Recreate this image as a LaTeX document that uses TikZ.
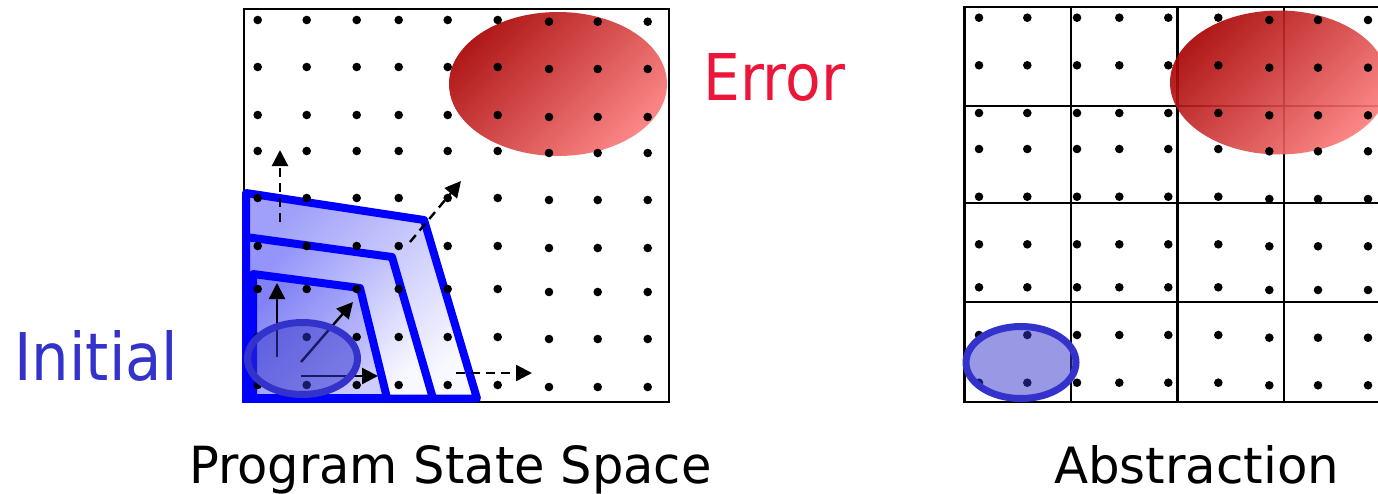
\documentclass[tikz,border=0pt]{standalone}
\usepackage{fontspec}
\setmainfont{DejaVu Sans}
\usetikzlibrary{arrows.meta}
\definecolor{errred}{RGB}{236,22,58}
\definecolor{initblue}{RGB}{51,51,204}
\definecolor{darkred}{RGB}{168,0,0}
\definecolor{lightred}{RGB}{252,122,122}
\definecolor{bandA}{RGB}{160,160,250}
\definecolor{bandB}{RGB}{148,148,250}
\definecolor{bandC}{RGB}{130,130,245}
\definecolor{bandLow}{RGB}{248,248,255}
\definecolor{bandLowC}{RGB}{205,205,255}
\begin{document}
\begin{tikzpicture}[x=1pt,y=-1pt,
  dotc/.style={fill=black},
  region/.style={draw=blue, line width=8pt, line join=round},
  arr/.style={line width=2.4pt, -{Triangle[length=16pt,width=16pt]}},
  darr/.style={arr, dash pattern=on 9pt off 6pt},
  lbl/.style={inner sep=0pt, anchor=base west},
  initell/.style={draw=initblue, line width=7pt, fill=initblue, fill opacity=0.5, draw opacity=1},
  gridline/.style={line width=2.6pt, black}
]
\useasboundingbox (0,0) rectangle (1378,493);
\fill[white] (0,0) rectangle (1378,493);

% ---------- left panel ----------
\draw[line width=2.2pt] (244,9) rectangle (669,402);
\shade[top color=darkred, bottom color=lightred, shading angle=45, opacity=0.9] (558,84) ellipse [x radius=109pt, y radius=72pt];

\shade[top color=bandA, bottom color=bandLow, shading angle=45] (246,193) -- (424,220) -- (477,398.5) -- (246,398.5) -- cycle;
\draw[region] (246,193) -- (424,220) -- (477,398.5) -- (246,398.5) -- cycle;
\shade[top color=bandB, bottom color=bandLow, shading angle=45] (246,237) -- (392,257) -- (433,398.5) -- (246,398.5) -- cycle;
\draw[region] (246,237) -- (392,257) -- (433,398.5) -- (246,398.5) -- cycle;
\shade[top color=bandC, bottom color=bandLowC, shading angle=45] (253,274) -- (360,288) -- (387,398) -- (253,398) -- cycle;
\draw[region] (253,274) -- (360,288) -- (387,398) -- (253,398) -- cycle;
\fill[blue] (242,280) rectangle (257,402.5);

\foreach \x in {257.7,306.7,356.7,398.7,447.7,497.7}
  \foreach \y in {20,67,115,151,198,246,289,337,385}
    \fill[dotc] (\x,\y) circle (4.3pt);
\foreach \x in {549,597.7,647.7}
  \foreach \y in {21.7,69,117,153,200,248,292,339,387}
    \fill[dotc] (\x,\y) circle (4.3pt);

\coordinate (su1) at (277,357); \coordinate (su2) at (277,283);
\coordinate (sd1) at (301,362); \coordinate (sd2) at (353,302);
\coordinate (sh1) at (301,376); \coordinate (sh2) at (378,376);
\draw[arr] (su1) -- (su2);
\draw[arr] (sd1) -- (sd2);
\draw[arr] (sh1) -- (sh2);

\draw[initell] (302.5,358.5) ellipse [x radius=55pt, y radius=36pt];

\coordinate (du1) at (280,222); \coordinate (du2) at (280,150);
\coordinate (dd1) at (410,242); \coordinate (dd2) at (461,181);
\coordinate (dh1) at (456,373); \coordinate (dh2) at (532,373);
\draw[darr] (du1) -- (du2);
\draw[darr] (dd1) -- (dd2);
\draw[darr] (dh1) -- (dh2);

\node[lbl, text=errred] (err) at (703,100) {\resizebox{142pt}{47pt}{Error}};
\node[lbl, text=initblue] (init) at (14,380) {\resizebox{164pt}{50pt}{Initial}};
\node[lbl] (pss) at (189,483) {\resizebox{522pt}{38pt}{Program State Space}};

% ---------- right panel ----------
\foreach \x in {964.7,1071,1177.7,1284}
  \draw[gridline] (\x,7) -- (\x,402);
\foreach \y in {7,106,203,302,402}
  \draw[gridline] (963.4,\y) -- (1378,\y);

\begin{scope}[overlay]
  \clip (0,0) rectangle (1378,493);
  \shade[top color=darkred, bottom color=lightred, shading angle=45, opacity=0.9] (1279,82.5) ellipse [x radius=109pt, y radius=72pt];
\end{scope}

\foreach \x in {979,1027.3,1077,1119.3,1168.3,1218.3}
  \foreach \y in {17.7,65.3,113,149,196.7,244.3,287.3,335,382.7}
    \fill[dotc] (\x,\y) circle (4.3pt);
\foreach \x in {1269.3,1318,1368}
  \foreach \y in {20,67.7,115.3,151.3,199,246.3,290,337.7,385.3}
    \fill[dotc] (\x,\y) circle (4.3pt);

\draw[initell] (1021,362.5) ellipse [x radius=55pt, y radius=36pt];

\node[lbl] (abs) at (1054,483.3) {\resizebox{285pt}{38pt}{Abstraction}};
\end{tikzpicture}
\end{document}
